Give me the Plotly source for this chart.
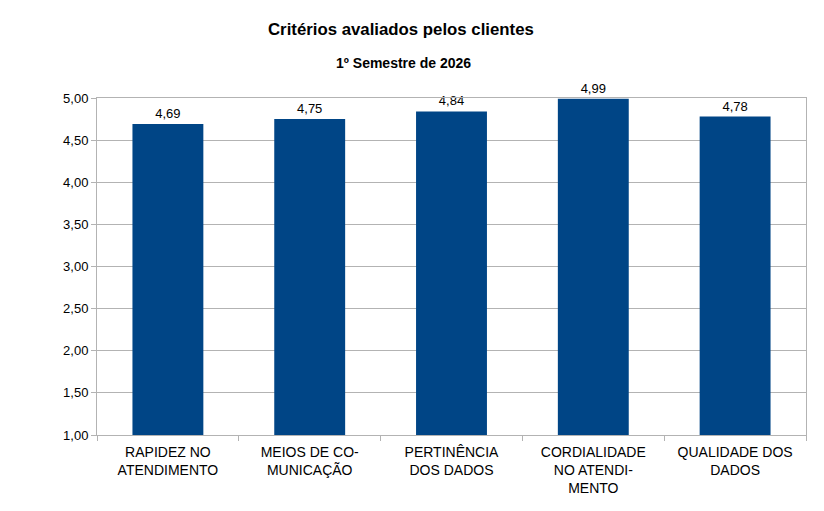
import plotly.graph_objects as go

categories = ["RAPIDEZ NO<br>ATENDIMENTO", "MEIOS DE CO-<br>MUNICAÇÃO", "PERTINÊNCIA<br>DOS DADOS",
              "CORDIALIDADE<br>NO ATENDI-<br>MENTO", "QUALIDADE DOS<br>DADOS"]
values = [4.69, 4.75, 4.84, 4.99, 4.78]
y_ticks = [1.0, 1.5, 2.0, 2.5, 3.0, 3.5, 4.0, 4.5, 5.0]

fig = go.Figure(go.Bar(
    x=categories, y=values, marker=dict(color="#004586", line=dict(width=0)),
    width=0.5, text=values, texttemplate="%{y:.2f}", textposition="outside",
    textfont=dict(size=13, color="#000000"), cliponaxis=False,
))
fig.update_layout(
    width=824, height=511, paper_bgcolor="white", plot_bgcolor="white",
    margin=dict(l=89, r=26, t=90, b=84),
    font=dict(family="Liberation Sans, Arial, sans-serif", size=13, color="#000000"),
    separators=",.", showlegend=False, bargap=0.5,
    annotations=[
        dict(text="<b>Critérios avaliados pelos clientes</b>", x=(400.5 - 97) / 709, y=1 + 68/337,
             xref="paper", yref="paper", showarrow=False, font=dict(size=16.8), yanchor="middle"),
        dict(text="<b>1º Semestre de 2026</b>", x=(403 - 97) / 709, y=1 + 35/337,
             xref="paper", yref="paper", showarrow=False, font=dict(size=14), yanchor="middle"),
    ],
)
fig.update_yaxes(range=[1, 5], tickvals=y_ticks, tickformat=".2f", showgrid=True, gridcolor="#b3b3b3",
                 gridwidth=1, ticks="outside", ticklen=5, tickcolor="#b3b3b3", showline=True,
                 linecolor="#b3b3b3", mirror=True, zeroline=False, tickfont=dict(size=13))
fig.update_xaxes(showline=True, linecolor="#b3b3b3", mirror=True, ticks="outside", ticklen=5,
                 tickcolor="#b3b3b3", tickson="boundaries", tickfont=dict(size=14), showgrid=False,
                 ticklabelstandoff=4)
fig.write_html("out.html")
